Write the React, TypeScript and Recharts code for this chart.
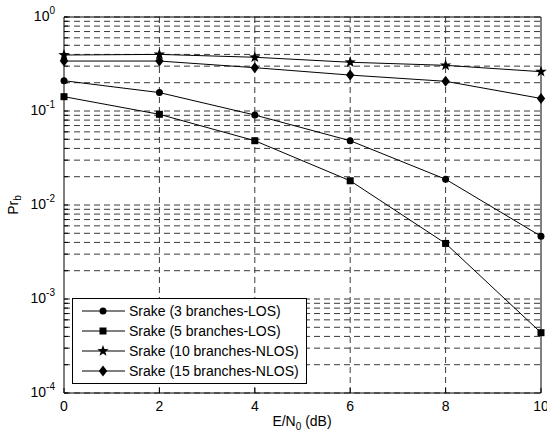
import React from "react";
import {
  LineChart,
  Line,
  XAxis,
  YAxis,
  CartesianGrid,
} from "recharts";

// E/N0 (dB)
const snrDb = [0, 2, 4, 6, 8, 10];

// bit error probability per rake configuration
const rake3Los = [0.21, 0.157, 0.0906, 0.0483, 0.0188, 0.00465];
const rake5Los = [0.142, 0.0922, 0.0483, 0.0181, 0.0039, 0.000438];
const rake10Nlos = [0.394, 0.4, 0.373, 0.33, 0.306, 0.262];
const rake15Nlos = [0.34, 0.34, 0.289, 0.241, 0.207, 0.136];

const seriesNames = [
  "Srake (3 branches-LOS)",
  "Srake (5 branches-LOS)",
  "Srake (10 branches-NLOS)",
  "Srake (15 branches-NLOS)",
];

const xTicks = [0, 2, 4, 6, 8, 10];
const xGrid = [2, 4, 6, 8];
const yMinor = [1e-4, 1e-3, 1e-2, 1e-1]
  .flatMap((d) => [1, 2, 3, 4, 5, 6, 7, 8, 9].map((m) => m * d))
  .concat([1]);

const data = snrDb.map((x, i) => ({
  x,
  s3: rake3Los[i],
  s5: rake5Los[i],
  s10: rake10Nlos[i],
  s15: rake15Nlos[i],
}));

const FONT = "'Liberation Sans', Arial, sans-serif";

type Shape = "circle" | "square" | "star" | "diamond";

function Marker({ shape, cx, cy }: { shape: Shape; cx: number; cy: number }) {
  if (shape === "circle") return <circle cx={cx} cy={cy} r={3.5} fill="#000" />;
  if (shape === "square")
    return <rect x={cx - 3.5} y={cy - 3.5} width={7} height={7} fill="#000" />;
  if (shape === "diamond")
    return (
      <polygon
        points={`${cx},${cy - 5.5} ${cx + 4.2},${cy} ${cx},${cy + 5.5} ${cx - 4.2},${cy}`}
        fill="#000"
      />
    );
  // five point star
  const pts: string[] = [];
  for (let k = 0; k < 10; k++) {
    const r = k % 2 === 0 ? 6 : 2.4;
    const a = -Math.PI / 2 + (k * Math.PI) / 5;
    pts.push(`${cx + r * Math.cos(a)},${cy + r * Math.sin(a)}`);
  }
  return <polygon points={pts.join(" ")} fill="#000" />;
}

const dotFor = (shape: Shape) => (props: any) => (
  <Marker key={props.index} shape={shape} cx={props.cx} cy={props.cy} />
);

function YTick(props: any) {
  const { x, y, payload } = props;
  const v = payload.value;
  const e = Math.round(Math.log10(v));
  if (Math.abs(Math.log10(v) - e) > 1e-6) return <g />;
  return (
    <text x={x} y={y} textAnchor="end" fontFamily={FONT} fontSize={14} fill="#000">
      <tspan dy="0.3em">10</tspan>
      <tspan dy="-0.75em" fontSize={10}>
        {e}
      </tspan>
    </text>
  );
}

function XTick(props: any) {
  const { x, y, payload } = props;
  return (
    <text x={x} y={y} dy="0.71em" textAnchor="middle" fontFamily={FONT} fontSize={14} fill="#000">
      {payload.value}
    </text>
  );
}

const shapes: Shape[] = ["circle", "square", "star", "diamond"];

function LegendBox() {
  return (
    <div
      style={{
        position: "absolute",
        left: 72,
        top: 298,
        border: "1px solid #000",
        background: "#fff",
        width: 233,
        height: 84,
        fontFamily: FONT,
        fontSize: 14,
      }}
    >
      {seriesNames.map((name, i) => (
        <div key={name} style={{ position: "relative", height: 20, top: 2 }}>
          <svg width={56} height={20} style={{ position: "absolute", left: 0, top: 0 }}>
            <line x1={9} y1={10} x2={52} y2={10} stroke="#000" strokeWidth={1} />
            <Marker shape={shapes[i]} cx={30} cy={10} />
          </svg>
          <span style={{ position: "absolute", left: 56, top: 1, lineHeight: "18px", whiteSpace: "nowrap" }}>
            {name}
          </span>
        </div>
      ))}
    </div>
  );
}

export default function App() {
  return (
    <div style={{ position: "absolute", left: 0, top: 0, width: 547, height: 434, background: "#fff" }}>
      <LineChart width={547} height={434} data={data} margin={{ top: 0, right: 0, bottom: 0, left: 0 }}>
        <CartesianGrid
          horizontalValues={yMinor}
          verticalValues={xGrid}
          stroke="#3a3a3a"
          strokeDasharray="6 4"
          strokeWidth={1}
        />
        <XAxis
          dataKey="x"
          type="number"
          domain={[0, 10]}
          ticks={xTicks}
          interval={0}
          tickSize={-5}
          tickMargin={13}
          tick={<XTick />}
          stroke="#000"
          height={41}
        />
        <XAxis
          xAxisId="top"
          dataKey="x"
          type="number"
          orientation="top"
          domain={[0, 10]}
          ticks={xTicks}
          interval={0}
          tickSize={-5}
          tick={false}
          stroke="#000"
          height={17}
        />
        <YAxis
          type="number"
          scale="log"
          domain={[1e-4, 1]}
          ticks={yMinor}
          interval={0}
          allowDataOverflow
          tickSize={-4}
          tickMargin={13}
          tick={<YTick />}
          stroke="#000"
          width={64}
        />
        <YAxis
          yAxisId="right"
          orientation="right"
          type="number"
          scale="log"
          domain={[1e-4, 1]}
          ticks={yMinor}
          interval={0}
          allowDataOverflow
          tickSize={-4}
          tick={false}
          stroke="#000"
          width={6}
        />
        <Line dataKey="s3" stroke="#000" strokeWidth={1} dot={dotFor("circle")} isAnimationActive={false} />
        <Line dataKey="s5" stroke="#000" strokeWidth={1} dot={dotFor("square")} isAnimationActive={false} />
        <Line dataKey="s10" stroke="#000" strokeWidth={1} dot={dotFor("star")} isAnimationActive={false} />
        <Line dataKey="s15" stroke="#000" strokeWidth={1} dot={dotFor("diamond")} isAnimationActive={false} />
      </LineChart>
      <LegendBox />
      <div
        style={{
          position: "absolute",
          left: 302,
          top: 413,
          transform: "translateX(-50%)",
          fontFamily: FONT,
          fontSize: 14,
          whiteSpace: "nowrap",
        }}
      >
        E/N<sub style={{ fontSize: 10 }}>0</sub> (dB)
      </div>
      <div
        style={{
          position: "absolute",
          left: 14,
          top: 205,
          transform: "translate(-50%, -50%) rotate(-90deg)",
          fontFamily: FONT,
          fontSize: 14,
          whiteSpace: "nowrap",
        }}
      >
        Pr<sub style={{ fontSize: 10 }}>b</sub>
      </div>
    </div>
  );
}
